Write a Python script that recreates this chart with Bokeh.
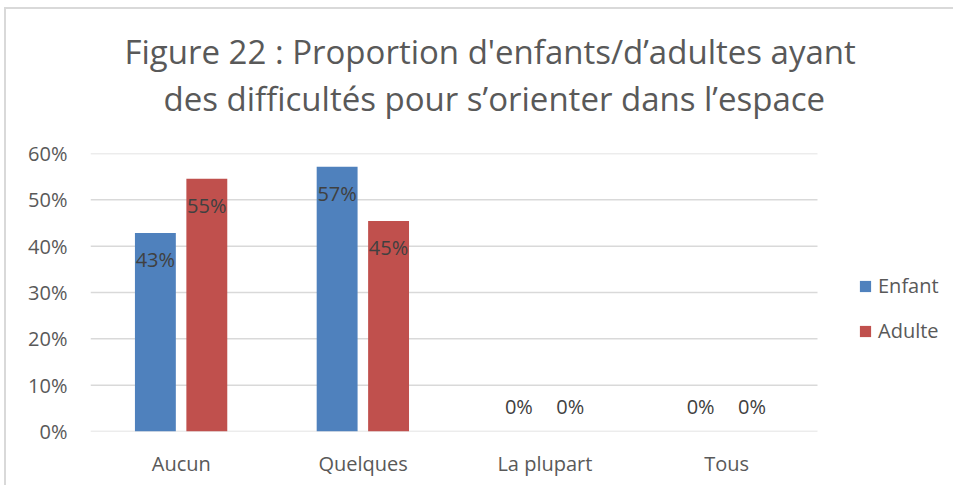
from bokeh.plotting import figure
from bokeh.models import (Range1d, FixedTicker, NumeralTickFormatter,
                          Legend, LegendItem, Title, ColumnDataSource)
from bokeh.transform import dodge
from bokeh.core.properties import value
from bokeh.embed import file_html
from bokeh.resources import INLINE

categories = ["Aucun", "Quelques", "La plupart", "Tous"]
series = ["Enfant", "Adulte"]
enfant = [0.4286, 0.5714, 0.0, 0.0]
adulte = [0.5455, 0.4545, 0.0, 0.0]
y_ticks = [0.0, 0.1, 0.2, 0.3, 0.4, 0.5, 0.6]
title_lines = ["Figure 22 : Proportion d'enfants/d\u2019adultes ayant",
               "des difficult\u00e9s pour s\u2019orienter dans l\u2019espace"]

FONT = "Open Sans"
GREY = "#595959"

# layout (pixels)
W, H = 949, 478
LEFT, TOP, BOTTOM = 84, 144, 56
PLOT_W = 727            # width occupied by the category bands
FRAME_W = W - LEFT      # frame extends to the right edge (legend lives inside)

n = len(categories)
centers = [i + 0.5 for i in range(n)]
x_end = n * FRAME_W / PLOT_W

def lbl(vals):
    return [f"{round(v * 100)}%" for v in vals]

def offs(vals):
    return [27 if v > 0 else -25 for v in vals]

src = ColumnDataSource(dict(
    xc=centers,
    enfant=enfant, adulte=adulte,
    enfant_lbl=lbl(enfant), adulte_lbl=lbl(adulte),
    enfant_off=offs(enfant), adulte_off=offs(adulte),
))

p = figure(x_range=Range1d(0, x_end), y_range=Range1d(0, 0.6),
           width=W, height=H, output_backend="svg", toolbar_location=None,
           title_location=None,
           min_border_left=LEFT, min_border_right=0, min_border_top=TOP, min_border_bottom=BOTTOM)
p.margin = (7, 0, 0, 4)
p.styles = {"border-left": "2px solid #d9d9d9", "border-top": "2px solid #d9d9d9"}

# horizontal gridlines limited to the category area
p.segment(x0=0, x1=n, y0=y_ticks, y1=y_ticks, line_color="#d9d9d9", line_width=1.5)

r1 = p.vbar(x=dodge("xc", -0.143), top="enfant", width=0.225,
            source=src, fill_color="#4f81bd", line_color=None)
r2 = p.vbar(x=dodge("xc", 0.14), top="adulte", width=0.225,
            source=src, fill_color="#c0504d", line_color=None)

for off, col, lab, yo in [(-0.143, "enfant", "enfant_lbl", "enfant_off"),
                          (0.14, "adulte", "adulte_lbl", "adulte_off")]:
    p.text(x=dodge("xc", off), y=col, text=lab, y_offset=yo,
           source=src, text_align="center", text_baseline="middle",
           text_font=value(FONT), text_font_size="20px", text_color="#404040")

spacer = Title(text=" ", text_font_size="1px", standoff=30)
t2 = Title(text=title_lines[1], align="left", offset=73, text_font=FONT, text_font_size="33px",
           text_font_style="normal", text_color=GREY, standoff=0)
t1 = Title(text=title_lines[0], align="left", offset=34, text_font=FONT, text_font_size="33px",
           text_font_style="normal", text_color=GREY, standoff=0)
p.add_layout(spacer, "above")
p.add_layout(t2, "above")
p.add_layout(t1, "above")

p.yaxis.ticker = FixedTicker(ticks=y_ticks)
p.yaxis.formatter = NumeralTickFormatter(format="0%")
p.yaxis.major_label_standoff = 23
p.xaxis.ticker = FixedTicker(ticks=centers)
p.xaxis.major_label_overrides = {c: name for c, name in zip(centers, categories)}
p.xaxis.major_label_standoff = 18
for ax in [p.xaxis, p.yaxis]:
    ax.axis_line_color = None
    ax.major_tick_line_color = None
    ax.minor_tick_line_color = None
    ax.major_tick_out = 0
    ax.minor_tick_out = 0
    ax.major_tick_in = 0
    ax.major_label_text_font = FONT
    ax.major_label_text_font_size = "20px"
    ax.major_label_text_color = GREY
p.xgrid.grid_line_color = None
p.ygrid.grid_line_color = None
p.outline_line_color = None

legend = Legend(items=[LegendItem(label=series[0], renderers=[r1]),
                       LegendItem(label=series[1], renderers=[r2])],
                location=(PLOT_W + 41, 87), orientation="vertical",
                glyph_width=14, glyph_height=14, label_height=27, label_standoff=6,
                spacing=18, padding=0, margin=0,
                label_text_font=FONT, label_text_font_size="20px", label_text_color=GREY,
                border_line_color=None, background_fill_alpha=0)
p.add_layout(legend)

open("out.html", "w").write(file_html(p, INLINE))
